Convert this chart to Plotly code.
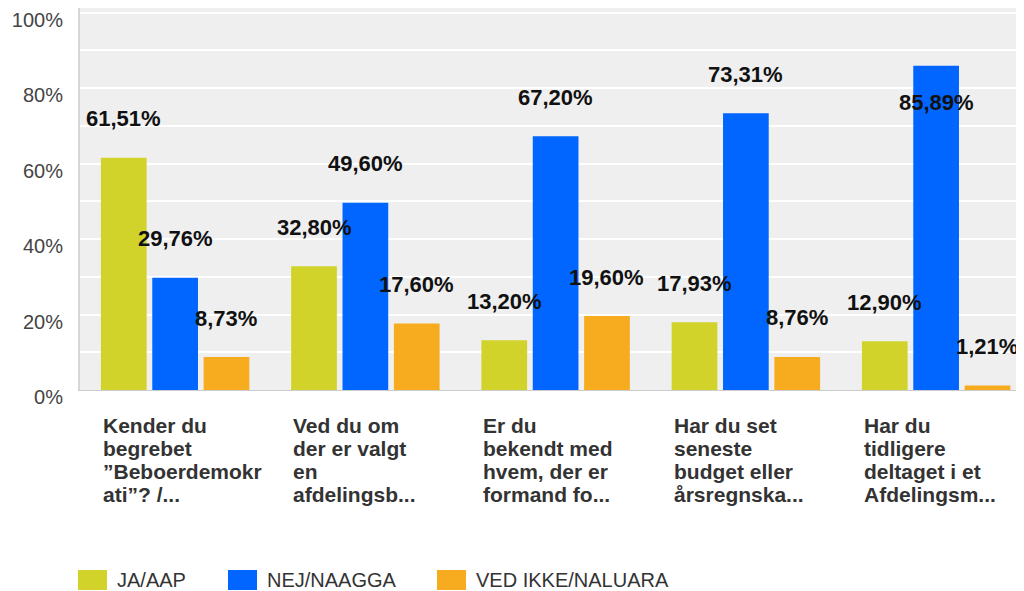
import plotly.graph_objects as go

# ---- data ----
categories = [
    "Kender du<br>begrebet<br>”Beboerdemokr<br>ati”? /...",
    "Ved du om<br>der er valgt<br>en<br>afdelingsb...",
    "Er du<br>bekendt med<br>hvem, der er<br>formand fo...",
    "Har du set<br>seneste<br>budget eller<br>årsregnska...",
    "Har du<br>tidligere<br>deltaget i et<br>Afdelingsm...",
]
series_names = ["JA/AAP", "NEJ/NAAGGA", "VED IKKE/NALUARA"]
ja_values = [61.51, 32.80, 13.20, 17.93, 12.90]
nej_values = [29.76, 49.60, 67.20, 73.31, 85.89]
ved_ikke_values = [8.73, 17.60, 19.60, 8.76, 1.21]
y_tick_values = [0, 20, 40, 60, 80, 100]
y_tick_labels = ["0%", "20%", "40%", "60%", "80%", "100%"]

series_values = [ja_values, nej_values, ved_ikke_values]
colors = ["#d1d32a", "#0066ff", "#f7ab1f"]

# page body has an 8px margin, so the figure is drawn 8px in from the corner
OFF = 8
W, H = 1024 - OFF, 591 - OFF
ML, MR, MT, MB = 72, 0, 0, 201
plot_w = W - ML - MR
plot_h = H - MT - MB
FONT = "Liberation Sans, Arial, sans-serif"

bargap = 0.19
bargroupgap = 0.11
slot = (1 - bargap) / len(series_names)

x_idx = list(range(len(categories)))

fig = go.Figure()
for name, vals, col in zip(series_names, series_values, colors):
    fig.add_trace(go.Bar(
        x=x_idx, y=vals, name=name, marker=dict(color=col, line=dict(width=0)),
        showlegend=False, hoverinfo="y",
    ))

annotations = []
ymax = 101.2
# value labels
for j, vals in enumerate(series_values):
    for i, v in enumerate(vals):
        below = v > 80
        annotations.append(dict(
            x=i + (j - 1) * slot, y=v, xref="x", yref="y",
            text=f"{v:.2f}".replace(".", ",") + "%",
            showarrow=False, xanchor="center", yanchor="middle",
            yshift=-37 if below else 39,
            font=dict(family=FONT, size=22, color="#111111", weight="bold"),
        ))

# category labels (left-aligned, multi-line)
line_offsets = [35, 58, 81, 104]
for i, cat in enumerate(categories):
    for k, line in enumerate(cat.split("<br>")):
        annotations.append(dict(
            x=i - 0.39, y=0, xref="x", yref="paper",
            text=line, showarrow=False, xanchor="left", yanchor="middle",
            yshift=-line_offsets[k],
            font=dict(family=FONT, size=21, color="#333333", weight="bold"),
        ))

# custom legend (positions in screen pixels)
legend_px = [78, 228, 437]
shapes = []
def px2paper_x(px):
    return (px - OFF - ML) / plot_w
def px2paper_y(py):
    return (H - MB - (py - OFF)) / plot_h
for name, col, lx in zip(series_names, colors, legend_px):
    shapes.append(dict(
        type="rect", xref="paper", yref="paper",
        x0=px2paper_x(lx), x1=px2paper_x(lx + 29),
        y0=px2paper_y(590), y1=px2paper_y(570),
        fillcolor=col, line=dict(width=0),
    ))
    annotations.append(dict(
        x=px2paper_x(lx + 37), y=px2paper_y(580), xref="paper", yref="paper",
        text=name, showarrow=False, xanchor="left", yanchor="middle",
        font=dict(family=FONT, size=20, color="#333333"),
    ))

fig.update_layout(
    width=W, height=H,
    margin=dict(l=ML, r=MR, t=MT, b=MB, pad=0, autoexpand=False),
    paper_bgcolor="white", plot_bgcolor="#efefef",
    barmode="group", bargap=bargap, bargroupgap=bargroupgap,
    annotations=annotations, shapes=shapes,
    showlegend=False,
    font=dict(family=FONT),
)
fig.update_xaxes(
    range=[-0.5, -0.5 + plot_w / 190.25], showticklabels=False,
    showgrid=False, zeroline=False,
    showline=True, linecolor="#cccccc", linewidth=1,
    fixedrange=True, automargin=False,
)
fig.update_yaxes(
    range=[0, ymax], tickmode="array", tickvals=y_tick_values, ticktext=y_tick_labels,
    tickfont=dict(family=FONT, size=20, color="#444444"),
    showgrid=True, gridcolor="white", gridwidth=2,
    minor=dict(dtick=10, showgrid=True, gridcolor="white", gridwidth=2),
    zeroline=False, showline=True, linecolor="#d6d6d6", linewidth=2,
    ticks="", ticklabelstandoff=11, ticklabelshift=7,
    ticklabeloverflow="allow",
    fixedrange=True, automargin=False,
)

fig.write_html("out.html")
